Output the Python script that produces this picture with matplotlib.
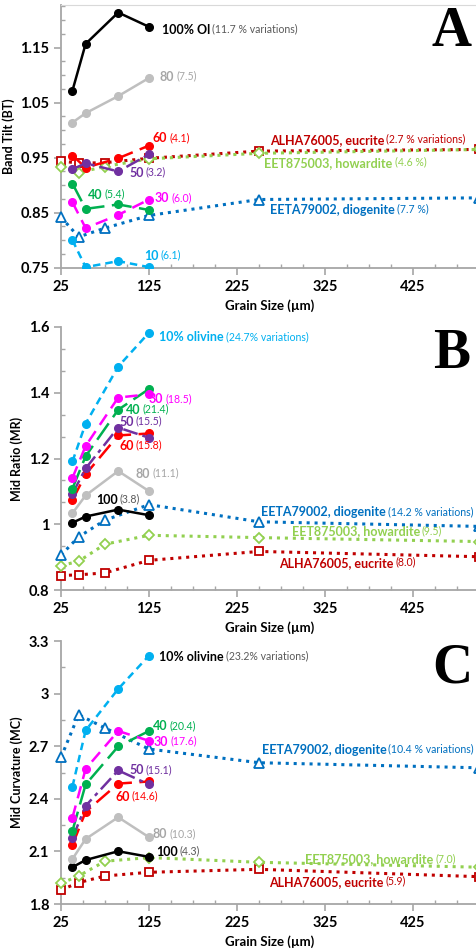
import matplotlib
matplotlib.use('Agg')
import matplotlib.pyplot as plt
from matplotlib.ticker import FixedLocator, MultipleLocator

plt.rcParams['font.family'] = ['Lato', 'DejaVu Sans']

# Grain sizes (um)
mix_x = [38, 53, 90, 125]
met_x = [25, 45, 75, 125, 250, 500]

# Panel A - Band Tilt
bt_100 = [1.072, 1.157, 1.214, 1.188]
bt_80 = [1.014, 1.031, 1.062, 1.095]
bt_60 = [0.954, 0.932, 0.949, 0.972]
bt_50 = [0.929, 0.940, 0.925, 0.956]
bt_40 = [0.903, 0.857, 0.865, 0.855]
bt_30 = [0.869, 0.822, 0.846, 0.874]
bt_10 = [0.800, 0.751, 0.762, 0.751]
bt_euc = [0.944, 0.940, 0.941, 0.949, 0.962, 0.965]
bt_how = [0.934, 0.923, 0.934, 0.948, 0.958, 0.965]
bt_dio = [0.842, 0.806, 0.822, 0.845, 0.874, 0.877]

# Panel B - Mid Ratio
mr_10 = [1.191, 1.306, 1.479, 1.582]
mr_30 = [1.141, 1.238, 1.385, 1.395]
mr_40 = [1.109, 1.207, 1.348, 1.411]
mr_50 = [1.093, 1.170, 1.294, 1.263]
mr_60 = [1.074, 1.152, 1.270, 1.276]
mr_80 = [1.034, 1.088, 1.162, 1.101]
mr_100 = [1.005, 1.024, 1.045, 1.028]
mr_dio = [0.907, 0.962, 1.013, 1.060, 1.008, 0.994]
mr_how = [0.875, 0.888, 0.940, 0.967, 0.960, 0.948]
mr_euc = [0.845, 0.847, 0.853, 0.891, 0.918, 0.902]

# Panel C - Mid Curvature
mc_10 = [2.470, 2.790, 3.027, 3.217]
mc_40 = [2.217, 2.482, 2.699, 2.787]
mc_30 = [2.293, 2.571, 2.787, 2.731]
mc_50 = [2.175, 2.360, 2.562, 2.482]
mc_60 = [2.137, 2.326, 2.487, 2.499]
mc_80 = [2.057, 2.171, 2.295, 2.181]
mc_100 = [2.010, 2.051, 2.101, 2.069]
mc_dio = [2.636, 2.880, 2.804, 2.684, 2.606, 2.577]
mc_how = [1.918, 1.960, 2.044, 2.065, 2.038, 2.010]
mc_euc = [1.880, 1.922, 1.960, 1.981, 1.998, 1.956]

BLACK = '#000000'
GRAY = '#bfbfbf'
RED = '#ff0000'
PURPLE = '#7030a0'
GREEN = '#00b050'
MAGENTA = '#ff00ff'
CYAN = '#00b0f0'
EUC = '#c00000'
HOW = '#92d050'
DIO = '#0070c0'
AXIS = '#a6a6a6'

styles = {
    '100': (BLACK, '-'),
    '80': (GRAY, '-'),
    '60': (RED, (0, (7, 3))),
    '50': (PURPLE, (0, (6, 2, 1.5, 2))),
    '40': (GREEN, (0, (8, 3))),
    '30': (MAGENTA, (0, (5, 3))),
    '10': (CYAN, (0, (3, 2))),
}


def plot_mix(ax, key, y):
    color, ls = styles[key]
    ax.plot(mix_x, y, color=color, linestyle=ls, linewidth=1.8,
            marker='o', markersize=5.5, zorder=4)


def plot_met(ax, y, color, marker, ms):
    ax.plot(met_x, y, color=color, linestyle=(0, (1, 1.6)), linewidth=2.2,
            marker=marker, markersize=ms, markerfacecolor='white',
            markeredgewidth=1.3, zorder=3, clip_on=False)


def label(ax, x, y, main, extra, color, extra_color=None):
    t = ax.text(x, y, main, color=color, fontsize=9.0, fontweight='bold',
                va='center', ha='left', zorder=6)
    ax.annotate(extra, xy=(1, 0), xycoords=t, xytext=(1.5, 1),
                textcoords='offset points', fontsize=7.6,
                color=extra_color or color, va='bottom', ha='left', zorder=6)


def style_axis(ax, ylim, major, minor, ylabel, letter, top_line=False):
    ax.set_xlim(25, 500)
    ax.set_ylim(*ylim)
    for s in ['right', 'top']:
        ax.spines[s].set_visible(False)
    if top_line:
        ax.spines['top'].set_visible(True)
        ax.spines['top'].set_color('#d9d9d9')
    for s in ['left', 'bottom']:
        ax.spines[s].set_color(AXIS)
        ax.spines[s].set_linewidth(1.3)
    ax.xaxis.set_major_locator(FixedLocator([25, 125, 225, 325, 425]))
    ax.xaxis.set_minor_locator(MultipleLocator(25))
    ax.yaxis.set_major_locator(FixedLocator(major))
    ax.yaxis.set_minor_locator(MultipleLocator(minor))
    ax.tick_params(which='major', direction='out', length=5, width=1.2,
                   color=AXIS, labelsize=10.5)
    ax.tick_params(which='minor', direction='in', length=3, width=1,
                   color=AXIS)
    for lab in ax.get_xticklabels() + ax.get_yticklabels():
        lab.set_fontweight('bold')
    ax.set_xlabel('Grain Size (µm)', fontsize=9.5, fontweight='bold', labelpad=4)
    ax.set_ylabel(ylabel, fontsize=9, fontweight='bold', labelpad=4)
    ax.text(0.935, 0.995, letter, transform=ax.transAxes, ha='center',
            va='top', fontsize=40, fontweight='bold',
            family='Liberation Serif', zorder=7)


fig = plt.figure(figsize=(4.76, 9.5), dpi=100)
left = 61 / 476
width = 418 / 476
ax1 = fig.add_axes([left, 0.7182, width, 0.2765])
ax2 = fig.add_axes([left, 0.3786, width, 0.2775])
ax3 = fig.add_axes([left, 0.0484, width, 0.2768])

# ---- Panel A
plot_met(ax1, bt_euc, EUC, 's', 6)
plot_met(ax1, bt_how, HOW, 'D', 5)
plot_met(ax1, bt_dio, DIO, '^', 6.5)
plot_mix(ax1, '100', bt_100)
plot_mix(ax1, '80', bt_80)
plot_mix(ax1, '60', bt_60)
plot_mix(ax1, '50', bt_50)
plot_mix(ax1, '40', bt_40)
plot_mix(ax1, '30', bt_30)
plot_mix(ax1, '10', bt_10)
label(ax1, 139.8, 1.182, '100% Ol', '(11.7 % variations)', BLACK, '#595959')
label(ax1, 137.5, 1.097, '80', '(7.5)', '#a6a6a6')
label(ax1, 129, 0.985, '60', '(4.1)', RED)
label(ax1, 102.7, 0.922, '50', '(3.2)', PURPLE)
label(ax1, 56, 0.883, '40', '(5.4)', GREEN)
label(ax1, 131.8, 0.876, '30', '(6.0)', MAGENTA)
label(ax1, 119.7, 0.771, '10', '(6.1)', CYAN)
label(ax1, 262.5, 0.982, 'ALHA76005, eucrite', '(2.7 % variations)', EUC)
label(ax1, 256, 0.941, 'EET875003, howardite', '(4.6 %)', HOW)
label(ax1, 262.5, 0.855, 'EETA79002, diogenite', '(7.7 %)', DIO)
style_axis(ax1, (0.75, 1.2276), [0.75, 0.85, 0.95, 1.05, 1.15], 0.025,
           'Band Tilt (BT)', 'A', top_line=True)

# ---- Panel B
plot_met(ax2, mr_euc, EUC, 's', 6)
plot_met(ax2, mr_how, HOW, 'D', 5)
plot_met(ax2, mr_dio, DIO, '^', 6.5)
plot_mix(ax2, '100', mr_100)
plot_mix(ax2, '80', mr_80)
plot_mix(ax2, '60', mr_60)
plot_mix(ax2, '50', mr_50)
plot_mix(ax2, '40', mr_40)
plot_mix(ax2, '30', mr_30)
plot_mix(ax2, '10', mr_10)
label(ax2, 136.7, 1.568, '10% olivine', '(24.7% variations)', CYAN)
label(ax2, 125, 1.380, '30', '(18.5)', MAGENTA)
label(ax2, 98.5, 1.348, '40', '(21.4)', GREEN)
label(ax2, 90.9, 1.311, '50', '(15.5)', PURPLE)
label(ax2, 91.3, 1.238, '60', '(15.8)', RED)
label(ax2, 110, 1.154, '80', '(11.1)', '#a6a6a6')
label(ax2, 64.8, 1.075, '100', '(3.8)', BLACK, '#595959')
label(ax2, 252, 1.037, 'EETA79002, diogenite', '(14.2 % variations)', DIO)
label(ax2, 287, 0.979, 'EET875003, howardite', '(9.5)', HOW)
label(ax2, 273, 0.884, 'ALHA76005, eucrite', '(8.0)', EUC)
style_axis(ax2, (0.8, 1.6), [0.8, 1.0, 1.2, 1.4, 1.6], 0.2 / 3,
           'Mid Ratio (MR)', 'B')
ax2.set_yticklabels(['0.8', '1', '1.2', '1.4', '1.6'], fontweight='bold')

# ---- Panel C
plot_met(ax3, mc_euc, EUC, 's', 6)
plot_met(ax3, mc_how, HOW, 'D', 5)
plot_met(ax3, mc_dio, DIO, '^', 6.5)
plot_mix(ax3, '100', mc_100)
plot_mix(ax3, '80', mc_80)
plot_mix(ax3, '60', mc_60)
plot_mix(ax3, '50', mc_50)
plot_mix(ax3, '40', mc_40)
plot_mix(ax3, '30', mc_30)
plot_mix(ax3, '10', mc_10)
label(ax3, 136.7, 3.21, '10% olivine', '(23.2% variations)', BLACK, '#595959')
label(ax3, 129, 2.813, '40', '(20.4)', GREEN)
label(ax3, 130.7, 2.724, '30', '(17.6)', MAGENTA)
label(ax3, 102.3, 2.562, '50', '(15.1)', PURPLE)
label(ax3, 86.4, 2.413, '60', '(14.6)', RED)
label(ax3, 129, 2.198, '80', '(10.3)', '#a6a6a6')
label(ax3, 132.6, 2.099, '100', '(4.3)', BLACK, '#595959')
label(ax3, 253, 2.68, 'EETA79002, diogenite', '(10.4 % variations)', DIO)
label(ax3, 302, 2.055, 'EET875003, howardite', '(7.0)', HOW)
label(ax3, 261.7, 1.927, 'ALHA76005, eucrite', '(5.9)', EUC)
style_axis(ax3, (1.8, 3.3), [1.8, 2.1, 2.4, 2.7, 3.0, 3.3], 0.15,
           'Mid Curvature (MC)', 'C')
ax3.set_yticklabels(['1.8', '2.1', '2.4', '2.7', '3', '3.3'], fontweight='bold')

fig.savefig('out.png', dpi=100)
